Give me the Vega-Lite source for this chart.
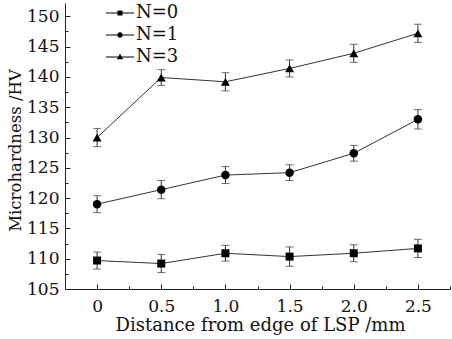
{
  "$schema": "https://vega.github.io/schema/vega-lite/v6.json",
  "width": 452,
  "height": 339,
  "autosize": {"type": "fit", "contains": "padding"},
  "padding": {"left": 7, "top": 3, "right": 1, "bottom": 5},
  "background": "white",
  "config": {
    "view": {"stroke": null},
    "font": "DejaVu Serif",
    "axis": {
      "grid": false,
      "domainColor": "#222",
      "tickColor": "#222",
      "labelColor": "#111",
      "titleColor": "#111",
      "labelFont": "DejaVu Serif",
      "titleFont": "DejaVu Serif",
      "labelFontSize": 17,
      "titleFontSize": 17.5,
      "titleFontWeight": "normal"
    }
  },
  "data": {
    "values": [
      {"x": 0, "N": "0", "y": 109.7, "err": 1.4},
      {"x": 0.5, "N": "0", "y": 109.2, "err": 1.5},
      {"x": 1.0, "N": "0", "y": 110.9, "err": 1.3},
      {"x": 1.5, "N": "0", "y": 110.35, "err": 1.6},
      {"x": 2.0, "N": "0", "y": 110.9, "err": 1.4},
      {"x": 2.5, "N": "0", "y": 111.7, "err": 1.5},
      {"x": 0, "N": "1", "y": 119.0, "err": 1.4},
      {"x": 0.5, "N": "1", "y": 121.4, "err": 1.5},
      {"x": 1.0, "N": "1", "y": 123.8, "err": 1.4},
      {"x": 1.5, "N": "1", "y": 124.2, "err": 1.3},
      {"x": 2.0, "N": "1", "y": 127.4, "err": 1.3},
      {"x": 2.5, "N": "1", "y": 133.0, "err": 1.6},
      {"x": 0, "N": "3", "y": 130.0, "err": 1.5},
      {"x": 0.5, "N": "3", "y": 139.9, "err": 1.3},
      {"x": 1.0, "N": "3", "y": 139.2, "err": 1.5},
      {"x": 1.5, "N": "3", "y": 141.4, "err": 1.4},
      {"x": 2.0, "N": "3", "y": 143.9, "err": 1.5},
      {"x": 2.5, "N": "3", "y": 147.2, "err": 1.5}
    ]
  },
  "resolve": {"axis": {"x": "independent", "y": "independent"}, "scale": {"shape": "independent"}},
  "layer": [
    {
      "mark": {"type": "errorbar", "ticks": {"size": 8, "color": "#333"}, "color": "#333", "thickness": 1},
      "encoding": {
        "x": {"field": "x", "type": "quantitative",
          "scale": {"domain": [-0.25, 2.75], "nice": false, "zero": false},
          "axis": {"orient": "bottom", "values": [0, 0.5, 1, 1.5, 2, 2.5], "labelExpr": "datum.value == 0 ? '0' : format(datum.value, '.1f')", "tickSize": -5, "labelPadding": 14, "title": "Distance from edge of LSP /mm", "titleFontSize": 18, "titlePadding": 2, "titleX": 195}},
        "y": {"field": "y", "type": "quantitative",
          "scale": {"domain": [105, 152.2], "nice": false, "zero": false},
          "axis": {"orient": "left", "values": [105, 110, 115, 120, 125, 130, 135, 140, 145, 150], "tickSize": -5, "labelPadding": 11, "title": "Microhardness /HV", "titleFontSize": 16.5, "titlePadding": 3, "titleY": 147}},
        "yError": {"field": "err"}
      }
    },
    {
      "mark": {"type": "line", "color": "#333", "strokeWidth": 1},
      "encoding": {
        "x": {"field": "x", "type": "quantitative",
          "axis": {"orient": "bottom", "values": [0.25, 0.75, 1.25, 1.75, 2.25, 2.75], "labels": false, "domain": false, "tickSize": -3, "title": null}},
        "y": {"field": "y", "type": "quantitative",
          "axis": {"orient": "left", "values": [107.5, 112.5, 117.5, 122.5, 127.5, 132.5, 137.5, 142.5, 147.5, 152.5], "labels": false, "domain": false, "tickSize": -3, "title": null}},
        "detail": {"field": "N"}
      }
    },
    {
      "mark": {"type": "point", "filled": true, "opacity": 1, "color": "#000"},
      "encoding": {
        "x": {"field": "x", "type": "quantitative", "axis": null},
        "y": {"field": "y", "type": "quantitative", "axis": null},
        "shape": {"field": "N", "type": "nominal", "scale": {"domain": ["0", "1", "3"], "range": ["square", "circle", "triangle-up"]}, "legend": null},
        "size": {"field": "N", "type": "nominal", "scale": {"domain": ["0", "1", "3"], "range": [64, 80, 100]}, "legend": null}
      }
    },
    {
      "mark": {"type": "point", "filled": true, "opacity": 0, "color": "#000"},
      "encoding": {
        "x": {"field": "x", "type": "quantitative", "axis": null},
        "y": {"field": "y", "type": "quantitative", "axis": null},
        "shape": {"field": "N", "type": "nominal",
          "scale": {"domain": ["0", "1", "3"], "range": [
            "M-1.4,-0.04H1.4V0.04H-1.4Z M-0.25,-0.25H0.25V0.25H-0.25Z",
            "M-1.4,-0.04H1.4V0.04H-1.4Z M0.27,0A0.27,0.27,0,1,1,-0.27,0A0.27,0.27,0,1,1,0.27,0Z",
            "M-1.4,-0.04H1.4V0.04H-1.4Z M0,-0.32L0.32,0.22L-0.32,0.22Z"
          ]},
          "legend": {"title": null, "orient": "none", "legendX": 45, "legendY": 0, "symbolSize": 400, "symbolOpacity": 1, "symbolFillColor": "#111", "symbolStrokeWidth": 0, "labelFont": "DejaVu Serif", "labelFontSize": 18, "labelColor": "#111", "labelExpr": "'N=' + datum.label", "rowPadding": 3, "labelOffset": 6}
        }
      }
    }
  ]
}
